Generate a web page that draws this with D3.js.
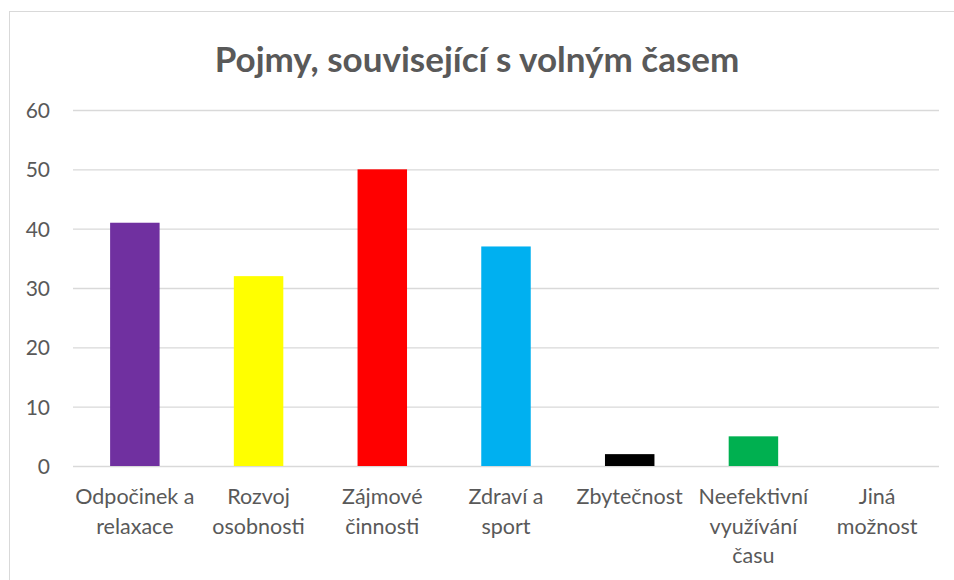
<!DOCTYPE html>
<html><head><meta charset="utf-8">
<script src="https://cdn.jsdelivr.net/npm/d3@7"></script>
<style>
html,body{margin:0;padding:0;background:#fff;}
text{font-family:Lato,"Open Sans",sans-serif;}
</style></head>
<body><svg id="c" width="954" height="580"></svg>
<script>
const title = "Pojmy, související s volným časem";
const categories = ["Odpočinek a\nrelaxace","Rozvoj\nosobnosti","Zájmové\nčinnosti","Zdraví a\nsport","Zbytečnost","Neefektivní\nvyužívání\nčasu","Jiná\nmožnost"];
const values = [41, 32, 50, 37, 2, 5, 0];
const colors = ["#7030A0","#FFFF00","#FF0000","#00B0F0","#000000","#00B050","#A5A5A5"];
const yTicks = [0,10,20,30,40,50,60];

const svg = d3.select("#c");
svg.append("rect").attr("x",9.5).attr("y",11.5).attr("width",960).attr("height",600)
  .attr("fill","#fff").attr("stroke","#d9d9d9").attr("stroke-width",1);

const pL=73, pR=939, pT=110, pB=466;
const x = d3.scaleBand().domain(d3.range(categories.length)).range([pL,pR]).paddingInner(0.6).paddingOuter(0.3);
const y = d3.scaleLinear().domain([0,60]).range([pB,pT]);

const yAxis = d3.axisLeft(y).tickValues(yTicks).tickSize(-(pR-pL)).tickPadding(23);
const ga = svg.append("g").attr("transform",`translate(${pL},0)`).call(yAxis);
ga.select(".domain").remove();
ga.selectAll(".tick line").attr("stroke","#d9d9d9").attr("stroke-width",1.3);
ga.selectAll(".tick text").attr("fill","#595959").style("font-size","21px").attr("dy","0.36em");

svg.append("g").selectAll("rect").data(values).join("rect")
  .attr("x",(d,i)=>x(i)).attr("width",x.bandwidth())
  .attr("y",d=>y(d)).attr("height",d=>y(0)-y(d))
  .attr("fill",(d,i)=>colors[i]);

const xl = svg.append("g");
categories.forEach((c,i)=>{
  const cx = x(i)+x.bandwidth()/2;
  const t = xl.append("text").attr("x",cx).attr("y",504)
    .attr("text-anchor","middle").attr("fill","#595959").style("font-size","21.5px");
  c.split("\n").forEach((line,j)=>{
    t.append("tspan").attr("x",cx).attr("dy", j===0?0:29.5).text(line);
  });
});

svg.append("text").attr("x",477).attr("y",72).attr("text-anchor","middle")
  .attr("fill","#595959").style("font-size","35px").style("font-weight","bold").text(title);
</script></body></html>
